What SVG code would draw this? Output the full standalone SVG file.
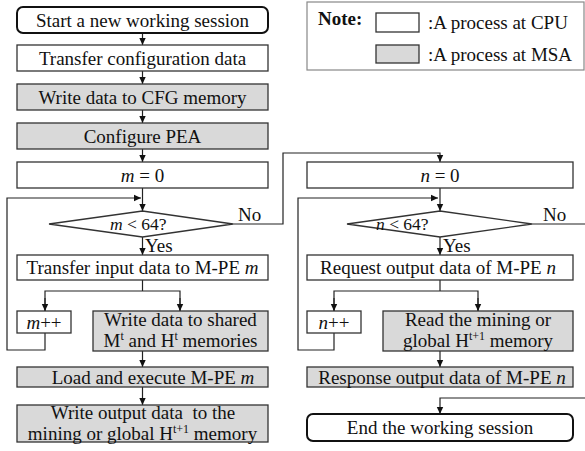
<svg xmlns="http://www.w3.org/2000/svg" width="585" height="451" viewBox="0 0 585 451">
<defs>
<marker id="ah" markerWidth="8" markerHeight="8" refX="7" refY="4" orient="auto" markerUnits="userSpaceOnUse">
<path d="M0,0.8 L7,4 L0,7.2 Z" fill="#111"/>
</marker>
<style>
.t{font-family:"Liberation Serif","Times New Roman",serif;font-size:19px;fill:#111;text-anchor:middle}
.s{text-anchor:start}
.d{font-size:17.5px}
.cpu{fill:#fff;stroke:#333;stroke-width:1.3}
.msa{fill:#d9d9d9;stroke:#333;stroke-width:1.3}
.term{fill:#fff;stroke:#111;stroke-width:2}
.c{fill:none;stroke:#222;stroke-width:1.2}
.i{font-style:italic}
.sup{font-size:12px}
</style>
</defs>
<rect width="585" height="451" fill="#fff"/>

<g id="note">
<rect x="307" y="2" width="277" height="68" fill="#fff" stroke="#888" stroke-width="1.2"/>
<text class="t s" x="318" y="25" font-weight="bold">Note:</text>
<rect x="376" y="13" width="43" height="19" class="cpu"/>
<text class="t s" x="428" y="29">:A process at CPU</text>
<rect x="376" y="45" width="43" height="18" class="msa"/>
<text class="t s" x="428" y="61">:A process at MSA</text>
</g>

<g id="connectors">
<line class="c" x1="142.5" y1="33" x2="142.5" y2="45" marker-end="url(#ah)"/>
<line class="c" x1="142.5" y1="71" x2="142.5" y2="84" marker-end="url(#ah)"/>
<line class="c" x1="142.5" y1="110" x2="142.5" y2="123" marker-end="url(#ah)"/>
<line class="c" x1="142.5" y1="149" x2="142.5" y2="162" marker-end="url(#ah)"/>
<line class="c" x1="142.5" y1="188" x2="142.5" y2="211" marker-end="url(#ah)"/>
<polyline class="c" points="45,333 45,350 7,350 7,198 141,198" marker-end="url(#ah)"/>
<line class="c" x1="142.5" y1="237" x2="142.5" y2="255" marker-end="url(#ah)"/>
<polyline class="c" points="142.5,280 142.5,291"/>
<polyline class="c" points="45,311 45,291 180,291 180,311"/>
<line class="c" x1="45" y1="298" x2="45" y2="311" marker-end="url(#ah)"/>
<line class="c" x1="180" y1="298" x2="180" y2="311" marker-end="url(#ah)"/>
<line class="c" x1="142.5" y1="351" x2="142.5" y2="367" marker-end="url(#ah)"/>
<line class="c" x1="142.5" y1="387" x2="142.5" y2="405" marker-end="url(#ah)"/>
<polyline class="c" points="233,224 283,224 283,153 440,153 440,162" marker-end="url(#ah)"/>

<line class="c" x1="440" y1="188" x2="440" y2="211" marker-end="url(#ah)"/>
<polyline class="c" points="334,333 334,350 298,350 298,198 438,198" marker-end="url(#ah)"/>
<line class="c" x1="440" y1="237" x2="440" y2="255" marker-end="url(#ah)"/>
<polyline class="c" points="440,280 440,291"/>
<polyline class="c" points="334,311 334,291 478,291 478,311"/>
<line class="c" x1="334" y1="298" x2="334" y2="311" marker-end="url(#ah)"/>
<line class="c" x1="478" y1="298" x2="478" y2="311" marker-end="url(#ah)"/>
<line class="c" x1="440" y1="351" x2="440" y2="367" marker-end="url(#ah)"/>
<line class="c" x1="532" y1="224" x2="585" y2="224"/>
<polyline class="c" points="585,398 440,398 440,414" marker-end="url(#ah)"/>
<text class="t s" x="238" y="221">No</text>
<text class="t s" x="543" y="221">No</text>
<text class="t s" x="145" y="252">Yes</text>
<text class="t s" x="443" y="252">Yes</text>
</g>

<g id="start">
<rect x="17" y="7" width="251" height="26" rx="6" class="term"/>
<text class="t" x="142.5" y="26.5">Start a new working session</text>
</g>
<g id="transfer-config">
<rect x="17" y="45" width="251" height="26" class="cpu"/>
<text class="t" x="142.5" y="64.5">Transfer configuration data</text>
</g>
<g id="write-cfg">
<rect x="17" y="84" width="251" height="26" class="msa"/>
<text class="t" x="142.5" y="103.5">Write data to CFG memory</text>
</g>
<g id="configure-pea">
<rect x="17" y="123" width="251" height="26" class="msa"/>
<text class="t" x="142.5" y="142.5">Configure PEA</text>
</g>
<g id="m0">
<rect x="17" y="162" width="251" height="26" class="cpu"/>
<text class="t" x="142.5" y="181.5"><tspan class="i">m</tspan> = 0</text>
</g>
<g id="m-cond">
<polygon points="49,224 142.5,211 233,224 142.5,237" class="cpu"/>
<text class="t s d" x="110" y="230"><tspan class="i">m</tspan> &lt; 64?</text>
</g>
<g id="transfer-input">
<rect x="17" y="255" width="251" height="25" class="cpu"/>
<text class="t" x="142.5" y="274">Transfer input data to M-PE <tspan class="i">m</tspan></text>
</g>
<g id="m-inc">
<rect x="17" y="311" width="54" height="22" class="cpu"/>
<text class="t" x="44" y="328.5"><tspan class="i">m</tspan>++</text>
</g>
<g id="write-shared">
<rect x="93" y="311" width="175" height="40" class="msa"/>
<text class="t" x="180.5" y="325.5">Write data to shared</text>
<text class="t" x="180.5" y="346.5">M<tspan class="sup" baseline-shift="super">t</tspan> and H<tspan class="sup" baseline-shift="super">t</tspan> memories</text>
</g>
<g id="load-exec">
<rect x="17" y="367" width="251" height="20" class="msa"/>
<text class="t" x="153" y="383.5">Load and execute M-PE <tspan class="i">m</tspan></text>
</g>
<g id="write-output">
<rect x="17" y="405" width="251" height="37" class="msa"/>
<text class="t" x="143" y="419" xml:space="preserve">Write output data  to the</text>
<text class="t" x="142.5" y="440">mining or global H<tspan class="sup" baseline-shift="super">t+1</tspan> memory</text>
</g>

<g id="n0">
<rect x="307" y="162" width="266" height="26" class="cpu"/>
<text class="t" x="440" y="181.5"><tspan class="i">n</tspan> = 0</text>
</g>
<g id="n-cond">
<polygon points="347,224 440,211 532,224 440,237" class="cpu"/>
<text class="t s d" x="376" y="230"><tspan class="i">n</tspan> &lt; 64?</text>
</g>
<g id="request-output">
<rect x="307" y="255" width="266" height="25" class="cpu"/>
<text class="t" x="438" y="274">Request output data of M-PE <tspan class="i">n</tspan></text>
</g>
<g id="n-inc">
<rect x="307" y="311" width="54" height="22" class="cpu"/>
<text class="t" x="334" y="328.5"><tspan class="i">n</tspan>++</text>
</g>
<g id="read-mining">
<rect x="383" y="311" width="190" height="40" class="msa"/>
<text class="t" x="478" y="325.5">Read the mining or</text>
<text class="t" x="478" y="346.5">global H<tspan class="sup" baseline-shift="super">t+1</tspan> memory</text>
</g>
<g id="response-output">
<rect x="307" y="367" width="266" height="20" class="msa"/>
<text class="t" x="442" y="383.5">Response output data of M-PE <tspan class="i">n</tspan></text>
</g>
<g id="end">
<rect x="307" y="414" width="266" height="27" rx="6" class="term"/>
<text class="t" x="440" y="434">End the working session</text>
</g>
</svg>
